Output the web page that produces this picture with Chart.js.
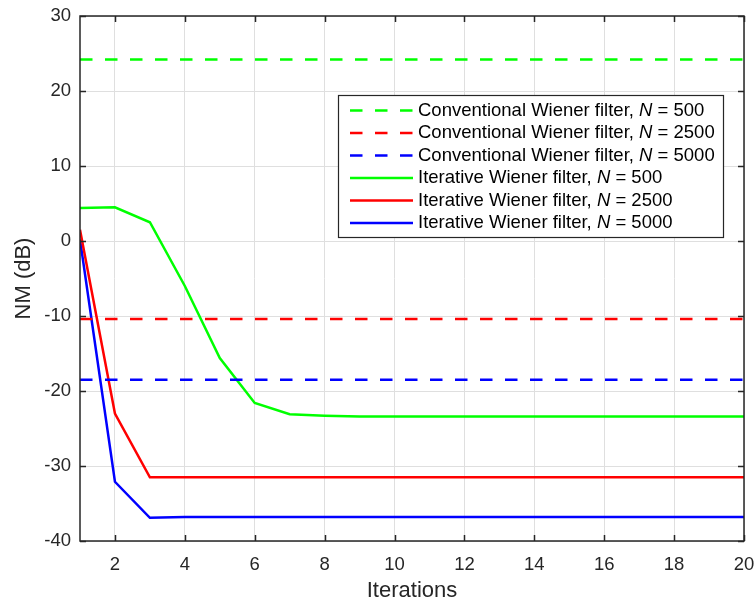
<!DOCTYPE html>
<html>
<head>
<meta charset="utf-8">
<script src="https://cdn.jsdelivr.net/npm/chart.js@4"></script>
<style>
  html, body { margin: 0; padding: 0; background: #fff; }
  #wrap { width: 755px; height: 604px; }
</style>
</head>
<body>
<div id="wrap"><canvas id="nm-chart" width="755" height="604"></canvas></div>
<script>
// Datos
const iterations = [1, 2, 3, 4, 5, 6, 7, 8, 9, 10, 11, 12, 13, 14, 15, 16, 17, 18, 19, 20];
const xTicks = [2, 4, 6, 8, 10, 12, 14, 16, 18, 20];
const yTicks = [-40, -30, -20, -10, 0, 10, 20, 30];

const convN500 = 24.2;
const convN2500 = -10.4;
const convN5000 = -18.5;

const iterN500 = [4.4, 4.5, 2.5, -6.0, -15.6, -21.6, -23.1, -23.3, -23.4, -23.4, -23.4, -23.4, -23.4, -23.4, -23.4, -23.4, -23.4, -23.4, -23.4, -23.4];
const iterN2500 = [1.5, -23.0, -31.5, -31.5, -31.5, -31.5, -31.5, -31.5, -31.5, -31.5, -31.5, -31.5, -31.5, -31.5, -31.5, -31.5, -31.5, -31.5, -31.5, -31.5];
const iterN5000 = [0.2, -32.1, -36.9, -36.8, -36.8, -36.8, -36.8, -36.8, -36.8, -36.8, -36.8, -36.8, -36.8, -36.8, -36.8, -36.8, -36.8, -36.8, -36.8, -36.8];

const seriesLabels = ['Conventional Wiener filter, ', 'Conventional Wiener filter, ', 'Conventional Wiener filter, ',
                      'Iterative Wiener filter, ', 'Iterative Wiener filter, ', 'Iterative Wiener filter, '];
const seriesN = ['500', '2500', '5000', '500', '2500', '5000'];

const GREEN = '#00ff00';
const RED = '#ff0000';
const BLUE = '#0000ff';
const AXIS = '#262626';
const FONT = '"Liberation Sans", Arial, sans-serif';
const DASH = [12.5, 12.5];

function flat(value) {
    return iterations.map(x => ({ x: x, y: value }));
}
function curve(values) {
    return iterations.map((x, i) => ({ x: x, y: values[i] }));
}

/**
 * Marco de los ejes con marcas hacia dentro (estilo MATLAB)
 */
const framePlugin = {
    id: 'frame',
    afterDatasetsDraw(chart) {
        const { ctx, chartArea: a, scales } = chart;
        ctx.save();
        ctx.strokeStyle = AXIS;
        ctx.lineWidth = 1.5;
        ctx.strokeRect(Math.round(a.left), Math.round(a.top),
                       Math.round(a.right - a.left), Math.round(a.bottom - a.top));
        const len = 6;
        ctx.beginPath();
        xTicks.forEach(v => {
            const px = Math.round(scales.x.getPixelForValue(v)) + 0.5;
            ctx.moveTo(px, a.bottom); ctx.lineTo(px, a.bottom - len);
            ctx.moveTo(px, a.top); ctx.lineTo(px, a.top + len);
        });
        yTicks.forEach(v => {
            const py = Math.round(scales.y.getPixelForValue(v)) + 0.5;
            ctx.moveTo(a.left, py); ctx.lineTo(a.left + len, py);
            ctx.moveTo(a.right, py); ctx.lineTo(a.right - len, py);
        });
        ctx.stroke();
        ctx.restore();
    }
};

/**
 * Leyenda dentro del área del gráfico, con la N en cursiva
 */
const insideLegendPlugin = {
    id: 'insideLegend',
    afterDraw(chart) {
        const { ctx, chartArea: a } = chart;
        const boxRight = a.right - 21;
        const boxLeft = boxRight - 385;
        const boxTop = a.top + 79;
        const rowH = 22.5;
        const boxH = 142;
        const size = 18.5;
        ctx.save();
        ctx.fillStyle = '#ffffff';
        ctx.fillRect(boxLeft, boxTop, boxRight - boxLeft, boxH);
        ctx.strokeStyle = AXIS;
        ctx.lineWidth = 1.2;
        ctx.strokeRect(Math.round(boxLeft) + 0.5, Math.round(boxTop) + 0.5, Math.round(boxRight - boxLeft), boxH);

        chart.data.datasets.forEach((ds, i) => {
            const cy = boxTop + 15.5 + i * rowH;
            ctx.strokeStyle = ds.borderColor;
            ctx.lineWidth = 2.5;
            ctx.setLineDash(ds.borderDash || []);
            ctx.beginPath();
            ctx.moveTo(boxLeft + 12, cy);
            ctx.lineTo(boxLeft + 75, cy);
            ctx.stroke();
            ctx.setLineDash([]);

            ctx.fillStyle = '#000';
            ctx.textBaseline = 'middle';
            let tx = boxLeft + 80;
            ctx.font = size + 'px ' + FONT;
            ctx.fillText(seriesLabels[i], tx, cy);
            tx += ctx.measureText(seriesLabels[i]).width;
            ctx.font = 'italic ' + size + 'px ' + FONT;
            ctx.fillText('N', tx, cy);
            tx += ctx.measureText('N').width;
            ctx.font = size + 'px ' + FONT;
            ctx.fillText(' = ' + seriesN[i], tx, cy);
        });
        ctx.restore();
    }
};

const canvas = document.getElementById('nm-chart');
const chart = new Chart(canvas.getContext('2d'), {
    type: 'line',
    data: {
        datasets: [
            { data: flat(convN500), borderColor: GREEN, borderDash: DASH },
            { data: flat(convN2500), borderColor: RED, borderDash: DASH },
            { data: flat(convN5000), borderColor: BLUE, borderDash: DASH },
            { data: curve(iterN500), borderColor: GREEN },
            { data: curve(iterN2500), borderColor: RED },
            { data: curve(iterN5000), borderColor: BLUE }
        ].map(ds => Object.assign(ds, { borderWidth: 2.5, pointRadius: 0, tension: 0, fill: false }))
    },
    options: {
        responsive: false,
        animation: false,
        layout: { padding: { left: 0, right: 11, top: 16, bottom: 0 } },
        plugins: {
            legend: { display: false },
            tooltip: { enabled: false }
        },
        scales: {
            x: {
                type: 'linear',
                min: 1,
                max: 20,
                afterBuildTicks: scale => { scale.ticks = xTicks.map(v => ({ value: v })); },
                afterFit: scale => {
                    scale.height = 63;
                    scale.paddingLeft = 0;
                    scale.paddingRight = 0;
                },
                grid: { color: '#dfdfdf', lineWidth: 1, drawTicks: false },
                border: { display: false },
                ticks: { color: AXIS, font: { family: FONT, size: 18.5 }, padding: 13, maxRotation: 0 },
                title: { display: true, text: 'Iterations', color: AXIS, font: { family: FONT, size: 22 }, padding: { top: 0, bottom: 0 } }
            },
            y: {
                min: -40,
                max: 30,
                afterBuildTicks: scale => { scale.ticks = yTicks.map(v => ({ value: v })); },
                afterFit: scale => {
                    scale.width = 80;
                    scale.paddingTop = 0;
                    scale.paddingBottom = 0;
                },
                grid: { color: '#dfdfdf', lineWidth: 1, drawTicks: false },
                border: { display: false },
                ticks: { color: AXIS, font: { family: FONT, size: 18.5 }, padding: 9 },
                title: { display: true, text: 'NM (dB)', color: AXIS, font: { family: FONT, size: 22 }, padding: { top: 11, bottom: 0 } }
            }
        }
    },
    plugins: [framePlugin, insideLegendPlugin]
});
</script>
</body>
</html>
